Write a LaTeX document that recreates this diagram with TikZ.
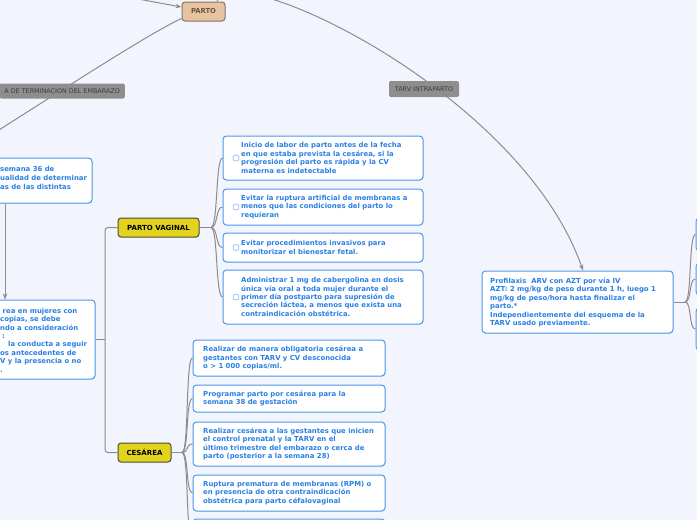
\documentclass[tikz,border=0pt]{standalone}
\usepackage{fontspec}
\setmainfont{DejaVu Sans}
\usetikzlibrary{shadows,arrows.meta}
\definecolor{bg}{HTML}{F2F5FE}
\definecolor{txtblue}{HTML}{2A80E4}
\definecolor{boxblue}{HTML}{4D98EC}
\definecolor{conn}{HTML}{8C8C8C}
\definecolor{lblfill}{HTML}{8E8E8E}
\definecolor{lbltext}{HTML}{3C3C3C}
\definecolor{partofill}{HTML}{E7C4A1}
\definecolor{partoline}{HTML}{8A7358}
\definecolor{partotext}{HTML}{6A5440}
\definecolor{yfill}{HTML}{E2D41E}
\definecolor{yline}{HTML}{4E4B30}
\definecolor{chkline}{HTML}{93BDF0}
\tikzset{
 wbox/.style={draw=boxblue, line width=1pt, fill=white, rounded corners=3.5pt, inner sep=0pt,
   drop shadow={opacity=0.12, shadow xshift=0.8pt, shadow yshift=-0.8pt}},
 btext/.style={text=txtblue, font=\fontsize{6.9}{8.4}\selectfont\bfseries, align=left, inner sep=0pt, anchor=west},
 chk/.style={draw=chkline, line width=0.7pt, fill=white, rounded corners=1pt, minimum size=5.5pt, inner sep=0pt},
 conline/.style={draw=conn, line width=1pt},
 arr/.style={conline, -{Stealth[length=6pt,width=4.5pt]}},
 lbl/.style={fill=lblfill, rounded corners=2pt, text=lbltext, font=\fontsize{6.4}{7}\selectfont, inner xsep=5pt, inner ysep=0pt, minimum height=15pt},
 ybox/.style={draw=yline, fill=yfill, line width=1pt, rounded corners=3pt, font=\fontsize{7}{8}\selectfont\bfseries, text=black, inner sep=0pt},
 pbox/.style={draw=partoline, fill=partofill, line width=1pt, rounded corners=3pt, font=\fontsize{6.8}{8}\selectfont\bfseries, text=partotext, inner sep=0pt},
}
\begin{document}
\begin{tikzpicture}[x=1pt,y=-1pt]
\useasboundingbox (0,0) rectangle (697,520);
\fill[bg] (0,0) rectangle (697,520);
\clip (0,0) rectangle (697,520);

% free ends
\coordinate (inA) at (100,-8);
\coordinate (leftend) at (-20,142);
\coordinate (pvj) at (211,227.5);
\coordinate (cesj) at (182,452.5);
\coordinate (profj) at (685,302);
\coordinate (lj) at (105,339.5);

% main nodes
\node[pbox, minimum width=43pt, minimum height=19pt] (parto) at (203.5,11.5) {PARTO};

% left column boxes
\node[wbox, minimum width=174pt, minimum height=45pt] (l1) at (5,180.5) {};
\node[wbox, minimum width=180pt, minimum height=79pt] (l2) at (5,339.5) {};

% PARTO VAGINAL children
\node[wbox, minimum width=200pt, minimum height=44pt] (v1) at (323,158) {};
\node[wbox, minimum width=200pt, minimum height=36pt] (v2) at (323,207) {};
\node[wbox, minimum width=200pt, minimum height=29pt] (v3) at (323,247.5) {};
\node[wbox, minimum width=200pt, minimum height=54pt] (v4) at (323,297) {};

% CESAREA children
\node[wbox, minimum width=192pt, minimum height=36pt] (c1) at (289,358) {};
\node[wbox, minimum width=192pt, minimum height=27pt] (c2) at (289,398.5) {};
\node[wbox, minimum width=192pt, minimum height=44pt] (c3) at (289,444) {};
\node[wbox, minimum width=192pt, minimum height=36pt] (c4) at (289,493) {};
\node[wbox, minimum width=192pt, minimum height=41pt] (c5) at (289,539.5) {};

% Profilaxis and its children
\node[wbox, minimum width=191pt, minimum height=62pt] (prof) at (577.5,302) {};
\node[wbox, minimum width=104pt, minimum height=33pt] (r1) at (748,234.5) {};
\node[wbox, minimum width=104pt, minimum height=32pt] (r2) at (748,279) {};
\node[wbox, minimum width=104pt, minimum height=42pt] (r3) at (748,329) {};

\node[ybox, minimum width=81pt, minimum height=19pt] (pv) at (158.5,227.5) {PARTO VAGINAL};
\node[ybox, minimum width=53pt, minimum height=19pt] (ces) at (144.5,452.5) {CESÁREA};

% connectors
\draw[arr] (inA) -- ([yshift=4.5pt]parto.west);
\draw[conline] ([yshift=3pt]parto.south west) .. controls (150,33) and (70,85) .. (leftend);
\draw[arr] ([xshift=13.5pt]parto.north) .. controls (228,-45) and (520,90) .. ([xshift=5.5pt]prof.north);
\draw[arr] (l1.south) -- (l2.north);
\draw[conline, rounded corners=3pt] (pv.west) -| (lj) |- (ces.west);
\draw[conline] (l2.east) -- (lj);

\draw[conline] (pv.east) -- (pvj);
\foreach \c in {v1,v2,v3,v4}
  \draw[conline] (pvj) .. controls +(7,0) and +(-7,0) .. (\c.west);
\draw[conline] (ces.east) -- (cesj);
\foreach \c in {c1,c2,c3,c4,c5}
  \draw[conline] (cesj) .. controls +(7,0) and +(-7,0) .. (\c.west);
\draw[conline] (prof.east) -- (profj);
\foreach \c in {r1,r2,r3}
  \draw[conline] (profj) .. controls +(7,0) and +(-7,0) .. (\c.west);

% labels
\node[lbl, anchor=east] (lblvia) at (125,91) {A DE TERMINACION DEL EMBARAZO};
\node[lbl, minimum width=70pt, minimum height=16pt, inner xsep=0pt] (lbltarv) at (424,89) {TARV INTRAPARTO};

% texts
\node[btext, font=\fontsize{6.9}{9.2}\selectfont\bfseries] (l1t) at (0,177.7) {semana 36 de\\ualidad de determinar\\as de las distintas};
\node[btext] (l2t) at (0,340) {\hspace*{2.5pt}rea en mujeres con\\copias, se debe\\ndo a consideración\\\hspace*{2pt}:\\\hspace*{8pt}la conducta a seguir\\os antecedentes de\\V y la presencia o no\\.};

\node[chk] (k1) at (236,158) {};
\node[chk] (k2) at (236,207) {};
\node[chk] (k3) at (236,247.5) {};
\node[chk] (k4) at (236,297) {};
\node[btext] (v1t) at (241,158) {Inicio de labor de parto antes de la fecha\\en que estaba prevista la cesárea, si la\\progresión del parto es rápida y la CV\\materna es indetectable};
\node[btext] (v2t) at (241,207) {Evitar la ruptura artificial de membranas a\\menos que las condiciones del parto lo\\requieran};
\node[btext] (v3t) at (241,247.5) {Evitar procedimientos invasivos para\\monitorizar el bienestar fetal.};
\node[btext] (v4t) at (241,297) {Administrar 1 mg de cabergolina en dosis\\única vía oral a toda mujer durante el\\primer día postparto para supresión de\\secreción láctea, a menos que exista una\\contraindicación obstétrica.};

\node[btext] (c1t) at (203,358) {Realizar de manera obligatoria cesárea a\\gestantes con TARV y CV desconocida\\o > 1 000 copias/ml.};
\node[btext] (c2t) at (203,398.5) {Programar parto por cesárea para la\\semana 38 de gestación};
\node[btext] (c3t) at (203,444) {Realizar cesárea a las gestantes que inicien\\el control prenatal y la TARV en el\\último trimestre del embarazo o cerca de\\parto (posterior a la semana 28)};
\node[btext] (c4t) at (203,493) {Ruptura prematura de membranas (RPM) o\\en presencia de otra contraindicación\\obstétrica para parto céfalovaginal};

\node[btext] (proft) at (490,302.5) {Profilaxis\ \ ARV con AZT por vía IV\\AZT: 2 mg/kg de peso durante 1 h, luego 1\\mg/kg de peso/hora hasta finalizar el\\parto.*\\Independientemente del esquema de la\\TARV usado previamente.};
\end{tikzpicture}
\end{document}
